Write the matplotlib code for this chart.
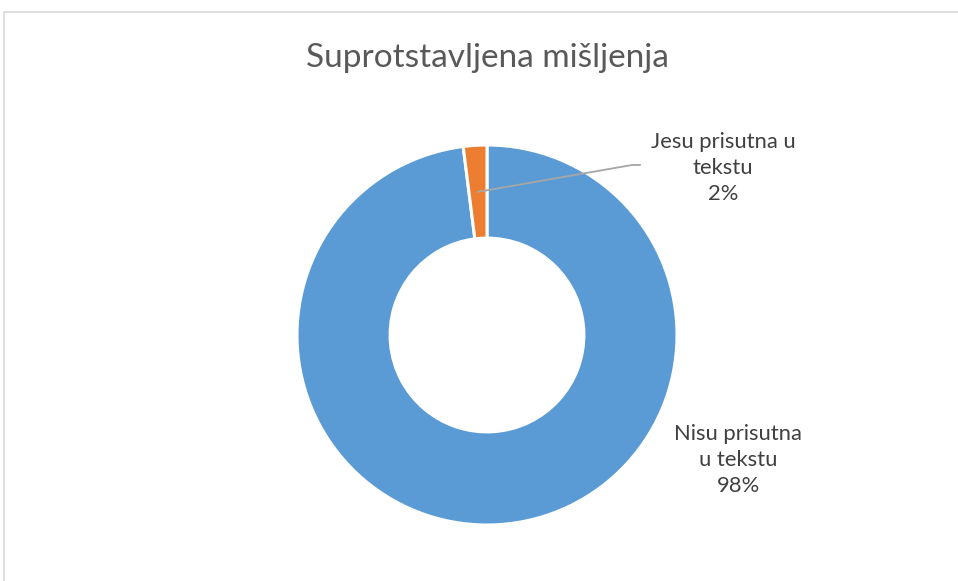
import matplotlib
matplotlib.use("Agg")
import matplotlib.pyplot as plt
import numpy as np
from matplotlib.patches import Rectangle

title = "Suprotstavljena mišljenja"
categories = ["Nisu prisutna\nu tekstu", "Jesu prisutna u\ntekstu"]
values = [98, 2]
colors = ["#5B9BD5", "#ED7D31"]

W, H = 958, 581
fig = plt.figure(figsize=(W / 100, H / 100), dpi=100)
fig.patch.set_facecolor("white")

# chart frame
fig.patches.append(Rectangle((4 / W, -0.1), 1.2, (H - 12) / H + 0.1,
                             transform=fig.transFigure, fill=False,
                             edgecolor="#d9d9d9", linewidth=1.2))

cx, cy, R = 487, 335, 190
ax = fig.add_axes([(cx - R) / W, (H - cy - R) / H, 2 * R / W, 2 * R / H])

wedges, _ = ax.pie(values, colors=colors, startangle=90, counterclock=False,
                   radius=1.0, wedgeprops=dict(width=0.49, edgecolor="white", linewidth=2.2))
for w in wedges:
    w.set_clip_on(False)
ax.set_xlim(-1, 1)
ax.set_ylim(-1, 1)
ax.set_aspect("equal")
ax.axis("off")

font = "Lato"
ax.text(0, (cy - 58) / R, title, ha="center", va="center", fontsize=24,
        color="#595959", family=font, clip_on=False)

total = sum(values)
pcts = [f"{round(v / total * 100)}%" for v in values]

# label for small slice with leader line
w = wedges[1]
ang = np.deg2rad((w.theta1 + w.theta2) / 2)
rmid = 1 - 0.49 / 2
x0, y0 = rmid * np.cos(ang), rmid * np.sin(ang)
ex, ey = (632 - cx) / R, (cy - 165) / R
ax.plot([x0, ex, (640 - cx) / R], [y0, ey, ey], color="#a6a6a6", lw=1.3, clip_on=False)
ax.text((723 - cx) / R, (cy - 168) / R, categories[1] + "\n" + pcts[1], ha="center", va="center",
        fontsize=15.8, color="#404040", family=font, linespacing=1.4, clip_on=False)

ax.text((738 - cx) / R, (cy - 460) / R, categories[0] + "\n" + pcts[0], ha="center", va="center",
        fontsize=15.8, color="#404040", family=font, linespacing=1.4, clip_on=False)

fig.savefig("out.png", dpi=100, facecolor="white")
